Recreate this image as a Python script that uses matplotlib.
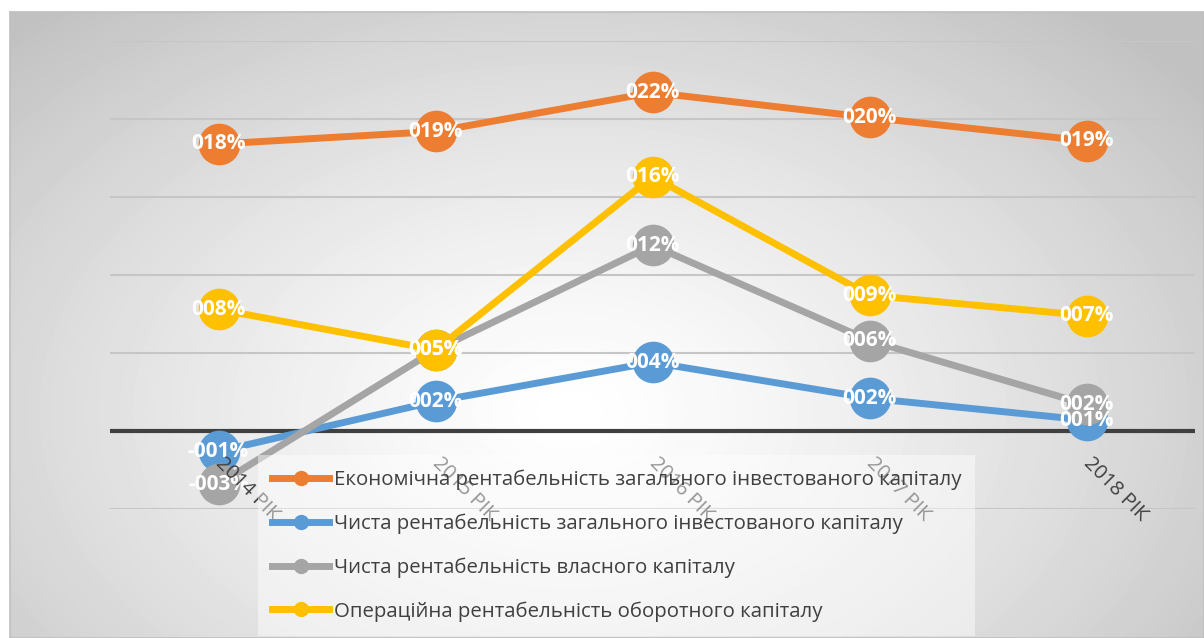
import numpy as np
import matplotlib
matplotlib.use("Agg")
import matplotlib.pyplot as plt

plt.rcParams['font.family'] = ['Open Sans', 'DejaVu Sans']

years = ["2014 РІК", "2015 РІК", "2016 РІК", "2017 РІК", "2018 РІК"]

econ_total = [0.184, 0.192, 0.217, 0.201, 0.186]
net_total = [-0.013, 0.019, 0.044, 0.021, 0.007]
net_equity = [-0.034, 0.052, 0.119, 0.058, 0.017]
oper_working = [0.078, 0.052, 0.163, 0.087, 0.074]

names = [
    "Економічна рентабельність загального інвестованого капіталу",
    "Чиста рентабельність загального інвестованого капіталу",
    "Чиста рентабельність власного капіталу",
    "Операційна рентабельність оборотного капіталу",
]
colors = ["#ED7D31", "#5B9BD5", "#A5A5A5", "#FFC000"]


def fmt(v):
    n = int(round(v * 100))
    return ("-" if n < 0 else "") + f"{abs(n):03d}%"


W, H = 1204, 638
fig = plt.figure(figsize=(W / 100, H / 100), dpi=100)

# radial grey background of the chart area
bg = fig.add_axes([10 / W, 0, 1 - 10 / W, 1 - 12 / H])
yy, xx = np.mgrid[0:626, 0:1194]
d = np.sqrt(((xx - 560) / 640) ** 2 + ((yy - 400) / 420) ** 2)
shade = 1 - 0.24 * np.clip(d / 1.25, 0, 1) ** 1.3
bg.imshow(shade, cmap="gray", vmin=0, vmax=1, aspect="auto", interpolation="bilinear")
bg.set_xticks([])
bg.set_yticks([])
for s in bg.spines.values():
    s.set_color("#bfbfbf")
    s.set_linewidth(1.2)

ax = fig.add_axes([110 / W, 1 - 509 / H, (1195 - 110) / W, (509 - 41) / H])
ax.patch.set_alpha(0)
ax.set_xlim(-0.5, 4.5)
ax.set_ylim(-0.05, 0.25)
for s in ax.spines.values():
    s.set_visible(False)
ax.set_yticks(np.arange(-0.05, 0.26, 0.05))
ax.yaxis.grid(True, color="#c6c6c6", lw=1.5)
ax.set_axisbelow(True)
ax.tick_params(left=False, labelleft=False, bottom=False, labelbottom=False)
ax.axhline(0, color="#404040", lw=3, zorder=1.5)

x = np.arange(len(years))
series = [econ_total, net_total, net_equity, oper_working]
for vals, name, c in zip(series, names, colors):
    ax.plot(x, vals, color=c, lw=5, marker="o", markersize=29,
            solid_capstyle="round", label=name, zorder=2)

for vals in series:
    for xi, v in zip(x, vals):
        ax.text(xi, v, fmt(v), color="white", fontsize=15, fontweight="bold",
                ha="center", va="center", zorder=3)

# category labels sit just under the zero line
for xi, lab in zip(x, years):
    ax.annotate(lab, (xi, 0), xytext=(0, -21), textcoords="offset points",
                rotation=-45, rotation_mode="anchor", ha="left", va="center",
                fontsize=14.5, color="#404040", zorder=4)

handles = [plt.Line2D([], [], color=c, lw=5, marker="o", markersize=10)
           for c in colors]
leg = fig.legend(handles, names, loc="upper left",
                 bbox_to_anchor=(258 / W, 1 - 455 / H), frameon=True,
                 fontsize=14.7, handlelength=2.8, labelspacing=1.15,
                 handletextpad=0.2, borderpad=0.7, borderaxespad=0,
                 fancybox=False)
leg.get_frame().set_facecolor("white")
leg.get_frame().set_alpha(0.45)
leg.get_frame().set_edgecolor("none")
for t in leg.get_texts():
    t.set_color("#404040")

fig.savefig("out.png", dpi=100)
